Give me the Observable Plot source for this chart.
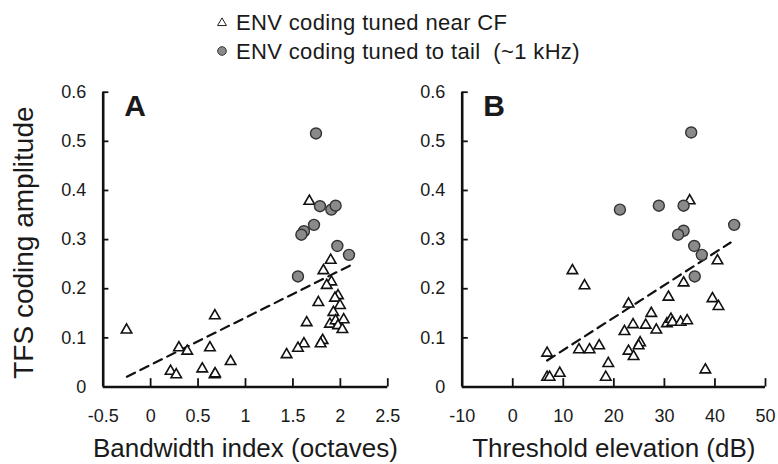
<!DOCTYPE html>
<html><head><meta charset="utf-8">
<script src="https://cdn.jsdelivr.net/npm/d3@7"></script>
<script src="https://cdn.jsdelivr.net/npm/@observablehq/plot@0.6"></script>
<style>
body{margin:0;background:#fff;}
#wrap{position:relative;width:778px;height:464px;font-family:"Liberation Sans",Arial,sans-serif;color:#1a1a1a;overflow:hidden}
#legend{position:absolute;left:0;top:0}
#pa{position:absolute;left:0;top:70px}
#pb{position:absolute;left:400px;top:70px}
</style></head><body>
<div id="wrap">
  <div id="legend"></div>
  <div id="pa"></div>
  <div id="pb"></div>
</div>
<script>
// ---------- data ----------
const legendLabels = ["ENV coding tuned near CF", "ENV coding tuned to tail  (~1 kHz)"];
const yTicks = [0, 0.1, 0.2, 0.3, 0.4, 0.5, 0.6];
const yTitle = "TFS coding amplitude";

// Panel A : bandwidth index (octaves)
const aXTicks = [-0.5, 0, 0.5, 1, 1.5, 2, 2.5];
const aTitle = "Bandwidth index (octaves)";
const aTriX = [-0.254, 0.677, 1.673, 1.898, 1.821, 1.905, 1.856, 1.768, 1.975, 1.943, 1.996, 1.926, 1.645, 1.890, 1.950, 2.035, 1.975, 2.021, 1.813, 1.792, 1.616, 1.553, 1.433, 0.298, 0.386, 0.625, 0.843, 0.544, 0.674, 0.680, 0.210, 0.270];
const aTriY = [0.116, 0.145, 0.378, 0.258, 0.237, 0.214, 0.207, 0.172, 0.186, 0.181, 0.166, 0.152, 0.131, 0.128, 0.135, 0.137, 0.125, 0.117, 0.095, 0.088, 0.088, 0.079, 0.066, 0.080, 0.073, 0.080, 0.052, 0.037, 0.025, 0.027, 0.032, 0.025];
const aCircX = [1.743, 1.785, 1.905, 1.950, 1.722, 1.616, 1.589, 1.968, 2.091, 1.553];
const aCircY = [0.516, 0.368, 0.361, 0.369, 0.330, 0.317, 0.310, 0.287, 0.269, 0.225];
const aFitX = [-0.25, 2.1];
const aFitY = [0.021, 0.247];

// Panel B : threshold elevation (dB)
const bXTicks = [-10, 0, 10, 20, 30, 40, 50];
const bTitle = "Threshold elevation (dB)";
const bTriX = [35.0, 11.8, 14.2, 40.5, 33.8, 30.8, 22.9, 39.5, 40.7, 27.4, 23.8, 22.1, 26.3, 28.4, 30.5, 31.3, 31.6, 33.2, 34.5, 25.2, 24.9, 6.8, 13.1, 15.2, 17.1, 22.9, 23.9, 18.9, 18.4, 6.8, 7.3, 9.3, 38.1];
const bTriY = [0.379, 0.237, 0.206, 0.257, 0.212, 0.183, 0.169, 0.180, 0.164, 0.150, 0.127, 0.113, 0.126, 0.116, 0.129, 0.138, 0.132, 0.132, 0.135, 0.090, 0.084, 0.069, 0.076, 0.076, 0.084, 0.073, 0.062, 0.048, 0.020, 0.020, 0.020, 0.028, 0.035];
const bCircX = [35.3, 21.2, 28.9, 33.8, 33.8, 32.7, 35.9, 37.4, 43.8, 36.0];
const bCircY = [0.518, 0.361, 0.369, 0.369, 0.318, 0.310, 0.287, 0.269, 0.330, 0.225];
const bFitX = [6.8, 43.1];
const bFitY = [0.054, 0.294];

// ---------- legend ----------
const lg = d3.select("#legend").append("svg").attr("width", 778).attr("height", 70)
  .style("font-family", '"Liberation Sans", Arial, sans-serif');
lg.append("path").attr("d", d3.symbol(d3.symbolTriangle, 34)()).attr("transform", "translate(222,23)")
  .attr("fill", "white").attr("stroke", "#222").attr("stroke-width", 1);
lg.append("circle").attr("cx", 222).attr("cy", 51).attr("r", 4.3)
  .attr("fill", "#8a8a8a").attr("stroke", "#333").attr("stroke-width", 1);
lg.selectAll("text.l").data(legendLabels).join("text")
  .attr("x", 236).attr("y", (d, i) => 30 + i * 29)
  .attr("font-size", 22).attr("letter-spacing", 0.35).attr("fill", "#1a1a1a").style("white-space", "pre")
  .attr("xml:space", "preserve")
  .text(d => d);

// ---------- panels ----------
const fmt = d => String(d);
function panel({xDomain, xTicks, triX, triY, circX, circY, fitX, fitY, label, xTitle, showYTitle, width, marginLeft, marginRight, xTickLen}) {
  const tri = triX.map((x, i) => ({x, y: triY[i]}));
  const circ = circX.map((x, i) => ({x, y: circY[i]}));
  const fit = fitX.map((x, i) => ({x, y: fitY[i]}));
  const marks = [
    Plot.ruleY([0], {x1: xDomain[0], x2: xDomain[1], stroke: "#111", strokeWidth: 2.6}),
    Plot.ruleX([xDomain[0]], {y1: 0, y2: 0.6, stroke: "#111", strokeWidth: 2.6}),
    Plot.ruleX(xTicks.slice(1), {x: d => d, y1: 0, y2: 0.017, stroke: "#111", strokeWidth: 1.8}),
    Plot.ruleY(yTicks.slice(1), {y: d => d, x1: xDomain[0], x2: xDomain[0] + xTickLen, stroke: "#111", strokeWidth: 1.8}),
    Plot.axisX({ticks: xTicks, tickSize: 0, tickPadding: 22, tickFormat: fmt, fontSize: 18, label: null}),
    Plot.axisY({ticks: yTicks, tickSize: 0, tickPadding: 17, tickFormat: fmt, fontSize: 18, label: null}),
    Plot.line(fit, {x: "x", y: "y", stroke: "#111", strokeWidth: 2.2, strokeDasharray: "9,6"}),
    Plot.dot(tri, {x: "x", y: "y", symbol: "triangle", r: 3.9, fill: "white", stroke: "#111", strokeWidth: 1.6}),
    Plot.dot(circ, {x: "x", y: "y", r: 5.5, fill: "#8a8a8a", stroke: "#333", strokeWidth: 1.4}),
    Plot.text([label], {frameAnchor: "top-left", dx: 21, dy: 2, lineAnchor: "top", textAnchor: "start", fontSize: 30, fontWeight: "bold"}),
    Plot.text([xTitle], {frameAnchor: "bottom", dy: 61.5, lineAnchor: "middle", textAnchor: "middle", fontSize: 26, letterSpacing: 1})
  ];
  if (showYTitle) marks.push(Plot.text([yTitle], {frameAnchor: "left", rotate: -90, dx: -79, dy: 3, lineAnchor: "middle", textAnchor: "middle", fontSize: 28, letterSpacing: 1.2}));
  return Plot.plot({
    width, height: 394,
    marginLeft, marginRight, marginTop: 21.7, marginBottom: 77.5,
    x: {domain: xDomain},
    y: {domain: [0, 0.6]},
    style: {fontFamily: '"Liberation Sans", Arial, sans-serif', color: "#1a1a1a", background: "transparent", overflow: "visible"},
    marks
  });
}

document.getElementById("pa").append(panel({
  xDomain: [-0.5, 2.5], xTicks: aXTicks, triX: aTriX, triY: aTriY, circX: aCircX, circY: aCircY,
  fitX: aFitX, fitY: aFitY, label: "A", xTitle: aTitle, showYTitle: true,
  width: 410, marginLeft: 102.7, marginRight: 22.7, xTickLen: 0.06
}));
document.getElementById("pb").append(panel({
  xDomain: [-10, 50], xTicks: bXTicks, triX: bTriX, triY: bTriY, circX: bCircX, circY: bCircY,
  fitX: bFitX, fitY: bFitY, label: "B", xTitle: bTitle, showYTitle: false,
  width: 378, marginLeft: 61.7, marginRight: 13, xTickLen: 1.2
}));
</script>
</body></html>
